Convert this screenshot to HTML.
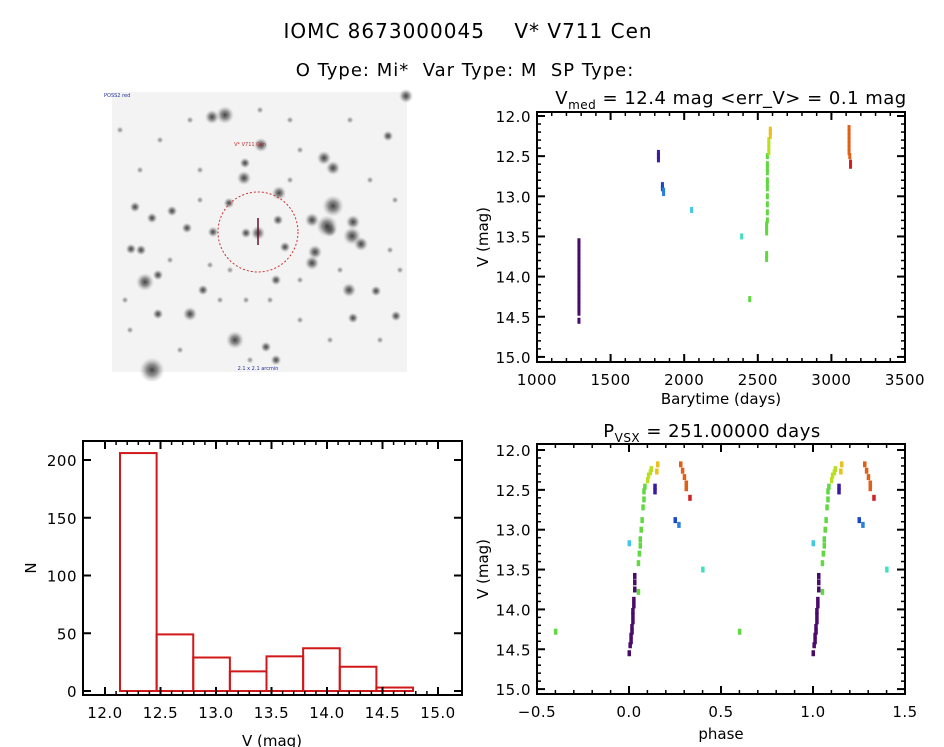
<!DOCTYPE html>
<html><head><meta charset="utf-8"><style>
html,body{margin:0;padding:0;background:#fff;}
svg{display:block;font-family:"DejaVu Sans","Liberation Sans",sans-serif;}
</style></head><body>
<svg id="c" width="944" height="747" viewBox="0 0 944 747" xmlns="http://www.w3.org/2000/svg">
<defs>
<radialGradient id="star"><stop offset="0" stop-color="#222"/><stop offset="0.45" stop-color="#555" stop-opacity="0.75"/><stop offset="1" stop-color="#aaa" stop-opacity="0"/></radialGradient>
</defs>
<text x="468" y="38" font-size="20" text-anchor="middle" letter-spacing="1" xml:space="preserve">IOMC 8673000045    V* V711 Cen</text>
<text x="465" y="76" font-size="18" text-anchor="middle" letter-spacing="1" xml:space="preserve">O Type: Mi*  Var Type: M  SP Type:</text>
<g id="img"><rect x="112" y="92" width="295" height="280" fill="#f3f3f3"/></g>
<g id="lc"></g>
<g id="ph"></g>
<g id="hist"></g>
</svg>
<script>
const NS="http://www.w3.org/2000/svg";
function el(p,tag,a,txt){const e=document.createElementNS(NS,tag);for(const k in a)e.setAttribute(k,a[k]);if(txt!==undefined)e.textContent=txt;p.appendChild(e);return e;}

// ---- data ----
const lcTimes=[1285,1285,1285,1285,1285,1285,1285,1285,1285,1285,1285,1285,1285,1285,1285,1285,1285,1285,1285,1285,1825,1825,1825,1852,1852,1860,1860,2050,2390,2445,2560,2560,2560,2560,2560,2565,2565,2565,2565,2565,2565,2565,2565,2565,2565,2565,2575,2575,2575,2575,2585,2585,2585,3120,3120,3120,3120,3120,3120,3120,3125,3130,3130];
const lcMags=[13.56,13.6,13.65,13.7,13.75,13.8,13.85,13.9,13.95,14.0,14.05,14.1,14.15,14.2,14.25,14.3,14.35,14.4,14.45,14.55,12.46,12.5,12.54,12.86,12.9,12.93,12.96,13.17,13.5,14.28,13.72,13.78,13.4,13.45,13.35,13.3,13.2,13.1,13.0,12.9,12.85,12.8,12.7,12.65,12.6,12.5,12.45,12.4,12.35,12.3,12.25,12.2,12.17,12.15,12.2,12.25,12.3,12.35,12.4,12.45,12.5,12.58,12.62];
const lcColors=[0,0,0,0,0,0,0,0,0,0,0,0,0,0,0,0,0,0,0,0,1,1,1,2,2,3,3,4,5,6,6,6,6,6,6,6,6,6,6,6,6,6,6,6,6,6,7,7,7,7,8,8,8,9,9,9,9,9,9,9,9,10,10];
const phPhases=[0.03,0.03,0.03,0.025,0.025,0.02,0.02,0.02,0.015,0.015,0.01,0.01,0.005,0.0,0.14,0.14,0.25,0.27,0.0,0.4,0.6,0.05,0.05,0.055,0.06,0.06,0.065,0.07,0.075,0.08,0.08,0.085,0.10,0.105,0.115,0.12,0.15,0.155,0.28,0.29,0.30,0.31,0.31,0.33];
const phMags=[13.58,13.66,13.75,13.88,13.95,14.02,14.08,14.15,14.22,14.28,14.33,14.4,14.45,14.55,12.46,12.52,12.88,12.94,13.17,13.5,14.28,13.78,13.42,13.3,13.2,13.12,13.0,12.88,12.72,12.62,12.52,12.46,12.38,12.32,12.28,12.24,12.27,12.18,12.18,12.26,12.34,12.42,12.48,12.6];
const phColors=[0,0,0,0,0,0,0,0,0,0,0,0,0,0,1,1,2,3,4,5,6,6,6,6,6,6,6,6,6,6,6,6,7,7,7,7,8,8,9,9,9,9,9,10];
const palette=['#4a0a6a','#3a1aa0','#1a48c8','#2a80d8','#40c8e8','#40e0c0','#60d840','#b8e020','#e8c020','#e06018','#d02020'];
const histEdges=[12.135,12.465,12.795,13.125,13.455,13.785,14.115,14.445,14.775];
const histCounts=[206,49,29,17,30,37,21,3];
const lcXTicks=[1000,1500,2000,2500,3000,3500];
const magTicks=[12.0,12.5,13.0,13.5,14.0,14.5,15.0];
const phXTicks=[-0.5,0.0,0.5,1.0,1.5];
const hXTicks=[12.0,12.5,13.0,13.5,14.0,14.5,15.0];
const hYTicks=[0,50,100,150,200];

function axes(g,box,xs,ys,xt,yt,xminor,yminor,xfmt,yfmt){
  el(g,'rect',{x:box.x0,y:box.y0,width:box.x1-box.x0,height:box.y1-box.y0,fill:'none',stroke:'#000','stroke-width':2});
  const L=8,l=4;
  xt.forEach(v=>{const x=xs(v);
    el(g,'line',{x1:x,y1:box.y1,x2:x,y2:box.y1-L,stroke:'#000','stroke-width':2});
    el(g,'line',{x1:x,y1:box.y0,x2:x,y2:box.y0+L,stroke:'#000','stroke-width':2});
    const t=el(g,'text',{x:x,y:box.y1+23,'font-size':15,'text-anchor':'middle','letter-spacing':0.5},xfmt(v));
    });
  if(xminor){for(let v=xt[0];v<=xt[xt.length-1]+1e-9;v+=xminor){const x=xs(v);
    el(g,'line',{x1:x,y1:box.y1,x2:x,y2:box.y1-l,stroke:'#000','stroke-width':1.5});
    el(g,'line',{x1:x,y1:box.y0,x2:x,y2:box.y0+l,stroke:'#000','stroke-width':1.5});}}
  yt.forEach(v=>{const y=ys(v);
    el(g,'line',{x1:box.x0,y1:y,x2:box.x0+L,y2:y,stroke:'#000','stroke-width':2});
    el(g,'line',{x1:box.x1,y1:y,x2:box.x1-L,y2:y,stroke:'#000','stroke-width':2});
    const t=el(g,'text',{x:box.x0-6,y:y+6,'font-size':15,'text-anchor':'end','letter-spacing':0.5},yfmt(v));
    });
  if(yminor){for(let v=yt[0];v<=yt[yt.length-1]+1e-9;v+=yminor){const y=ys(v);
    el(g,'line',{x1:box.x0,y1:y,x2:box.x0+l,y2:y,stroke:'#000','stroke-width':1.5});
    el(g,'line',{x1:box.x1,y1:y,x2:box.x1-l,y2:y,stroke:'#000','stroke-width':1.5});}}
}

// ---- light curve ----
(function(){
  const g=document.getElementById('lc');
  const box={x0:537,x1:905,y0:112,y1:362};
  const xs=t=>537+(t-1000)*368/2500;
  const ys=m=>116+(m-12)*80.3;
  lcTimes.forEach((t,i)=>{const r=el(g,'rect',{x:xs(lcTimes[i])-1.5,y:ys(lcMags[i])-3,width:3,height:6,fill:palette[lcColors[i]]});
    });
  axes(g,box,xs,ys,lcXTicks,magTicks,100,0.1,v=>String(v),v=>v.toFixed(1));
  const t=el(g,'text',{x:731,y:104,'font-size':18,'text-anchor':'middle','letter-spacing':0.5});
  
  t.innerHTML='V<tspan font-size="12" dy="5">med</tspan><tspan dy="-5"> = 12.4 mag &lt;err_V&gt; = 0.1 mag</tspan>';
  const xl=el(g,'text',{x:721,y:404,'font-size':15,'text-anchor':'middle'},'Barytime (days)');
  
  const yl=el(g,'text',{x:0,y:0,'font-size':15,'text-anchor':'middle',transform:'translate(488,237) rotate(-90)'},'V (mag)');
  
})();

// ---- phase ----
(function(){
  const g=document.getElementById('ph');
  const box={x0:537,x1:905,y0:444,y1:694};
  const xs=p=>537+(p+0.5)*184;
  const ys=m=>450+(m-12)*79.7;
  phPhases.forEach((p,i)=>{[-1,0,1].forEach(k=>{const q=phPhases[i]+k;if(q<-0.5||q>1.5)return;
    const r=el(g,'rect',{x:xs(q)-1.5,y:ys(phMags[i])-3,width:3.5,height:6,fill:palette[phColors[i]]});
    });});
  axes(g,box,xs,ys,phXTicks,magTicks,0.1,0.1,v=>v.toFixed(1).replace('-','\u2212'),v=>v.toFixed(1));
  const t=el(g,'text',{x:712,y:437,'font-size':18,'text-anchor':'middle','letter-spacing':0.5});
  
  t.innerHTML='P<tspan font-size="12" dy="5">VSX</tspan><tspan dy="-5"> = 251.00000 days</tspan>';
  const xl=el(g,'text',{x:721,y:739,'font-size':15,'text-anchor':'middle'},'phase');
  
  const yl=el(g,'text',{x:0,y:0,'font-size':15,'text-anchor':'middle',transform:'translate(488,569) rotate(-90)'},'V (mag)');
  
})();

// ---- histogram ----
(function(){
  const g=document.getElementById('hist');
  const box={x0:83,x1:462,y0:441,y1:695};
  const xs=v=>105+(v-12)*111;
  const ys=n=>691-n*1.155;
  histCounts.forEach((n,i)=>{const r=el(g,'rect',{x:xs(histEdges[i]),y:ys(histCounts[i]),width:xs(histEdges[i+1])-xs(histEdges[i]),height:691-ys(histCounts[i]),fill:'none',stroke:'#d01818','stroke-width':2});
    });
  axes(g,box,xs,ys,hXTicks,hYTicks,0.1,0,v=>v.toFixed(1),v=>String(v));
  const xl=el(g,'text',{x:272,y:746,'font-size':15,'text-anchor':'middle'},'V (mag)');
  
  const yl=el(g,'text',{x:0,y:0,'font-size':15,'text-anchor':'middle',transform:'translate(36,568) rotate(-90)'},'N');
  
})();

// ---- sky image ----
(function(){
  const g=document.getElementById('img');
  const stars=[[225,115,5],[212,117,4],[261,145,4],[324,158,4],[333,168,4],[279,193,4],[245,163,3],[244,178,4],[333,206,6],[330,230,4],[172,211,3],[152,218,3],[135,207,3],[229,203,3],[187,228,3],[213,232,3],[312,220,4],[327,226,6],[353,222,4],[352,236,5],[361,244,4],[278,220,3],[246,233,3],[258,233,4],[285,247,3],[315,252,4],[312,263,4],[145,282,5],[158,275,3],[349,290,4],[376,291,3],[190,314,4],[158,314,3],[235,340,5],[266,347,3],[353,318,3],[152,370,7],[276,360,3],[406,96,4],[388,136,3],[131,249,3],[141,250,3],[396,316,3],[210,265,2],[203,290,3],[276,280,3],[246,300,2],
  [120,130,2],[140,170,2],[160,140,2],[190,120,2],[200,170,2],[260,110,2],[290,120,2],[300,150,2],[350,120,2],[370,180,2],[395,200,2],[390,250,2],[380,340,2],[330,340,2],[300,320,2],[220,300,2],[180,350,2],[130,330,2],[125,300,2],[170,260,2],[230,270,2],[300,280,2],[340,270,2],[400,270,2],[290,180,2],[200,200,2],[270,300,2],[250,360,2]];
  stars.forEach(s=>{const c=el(g,'circle',{cx:s[0],cy:s[1],r:s[2]*1.8,fill:'url(#star)','fill-opacity':s[2]<=2?0.5:0.85});
    });
  el(g,'circle',{cx:258,cy:232,r:40,fill:'none',stroke:'#d03030','stroke-width':1,'stroke-dasharray':'2,2'});
  el(g,'line',{x1:258,y1:218,x2:258,y2:245,stroke:'#6a1030','stroke-width':1.5});
  el(g,'text',{x:250,y:146,'font-size':5,fill:'#c03030','text-anchor':'middle'},'V* V711 Cen');
  el(g,'text',{x:104,y:97,'font-size':5,fill:'#2030a0'},'POSS2 red');
  el(g,'text',{x:258,y:370,'font-size':5,fill:'#2030a0','text-anchor':'middle'},'2.1 x 2.1 arcmin');
})();
</script>
</body></html>
